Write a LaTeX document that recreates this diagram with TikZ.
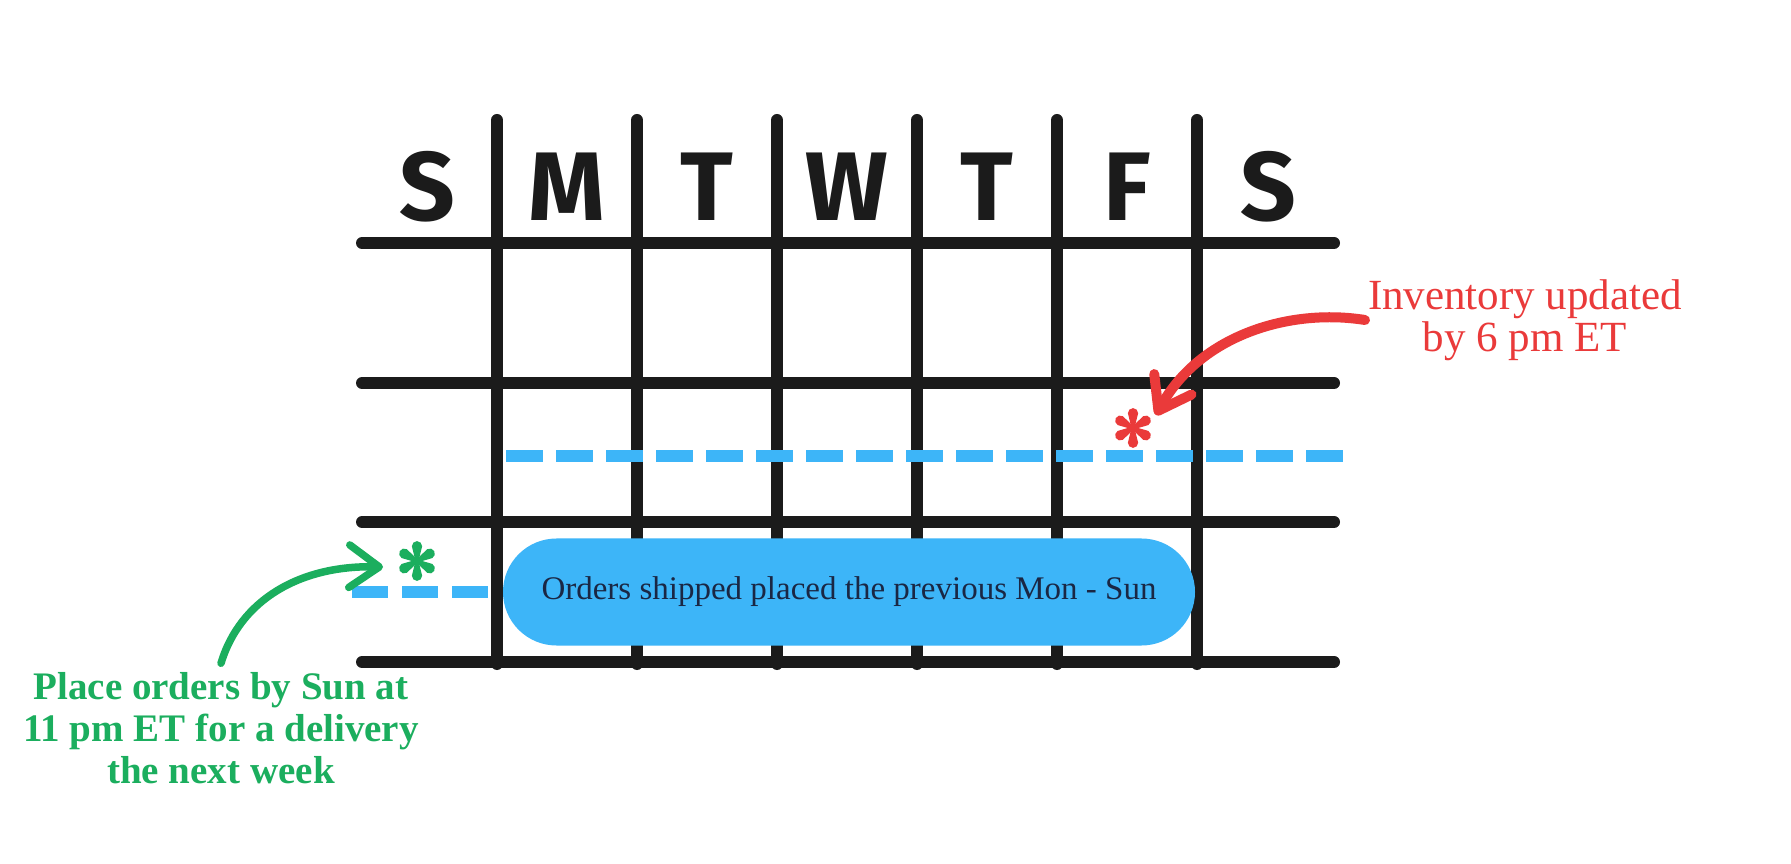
\documentclass[tikz,border=0pt]{standalone}
\usepackage{fontspec}
\setmainfont{Liberation Serif}
\newfontfamily\dayfont{Fira Sans}
\usetikzlibrary{arrows.meta}
\definecolor{gridblack}{HTML}{1B1B1B}
\definecolor{skyblue}{HTML}{3DB5F8}
\definecolor{navytext}{HTML}{1A2744}
\definecolor{alertred}{HTML}{EA3A3A}
\definecolor{leafgreen}{HTML}{1BAE5E}
\tikzset{
  gridline/.style={draw=gridblack, line width=4.8pt, line cap=round},
  bluedash/.style={draw=skyblue, line width=4.8pt, line cap=butt, dash pattern=on 14.8pt off 5.2pt},
  dayletter/.style={font=\dayfont\bfseries\fontsize{39}{39}\selectfont, text=gridblack, inner sep=0pt},
  pill/.style={fill=skyblue, minimum width=276.8pt, minimum height=42.8pt, rounded corners=21.4pt,
    font=\fontsize{13.2}{15}\selectfont, text=navytext, inner sep=0pt},
  redlabel/.style={font=\fontsize{17.2}{16.8}\selectfont, text=alertred, align=center, inner sep=1pt},
  greenlabel/.style={font=\bfseries\fontsize{15.6}{16.7}\selectfont, text=leafgreen, align=center, inner sep=1pt},
  asterisk/.pic={
    \fill (0,0) circle[radius=1.1pt];
    \foreach \a in {30,90,150,210,270,330}{
      \fill[rotate=\a] (0pt,0pt) -- (0pt,0.6pt) -- (5.9pt,2.05pt) arc[start angle=90, end angle=-90, radius=2.05pt] -- (0pt,-0.6pt) -- cycle;}},
  pointer/.style={line width=#1, line cap=round, -{Straight Barb[length=12pt, width=17pt, round]}}
}
\begin{document}
\begin{tikzpicture}[x=0.4pt, y=-0.4pt]
\useasboundingbox[fill=white] (0,0) rectangle (1791,864);
% grid
\foreach \y in {243,383,522,662} \draw[gridline] (362,\y) -- (1334,\y);
\foreach \x in {497,637,777,917,1057,1197} \draw[gridline] (\x,120) -- (\x,664);
% day letters
\node[dayletter] (dS1) at (427,187) {S};
\node[dayletter] (dM) at (567,187) {M};
\node[dayletter] (dT1) at (707,187) {T};
\node[dayletter] (dW) at (847,187) {W};
\node[dayletter] (dT2) at (987,187) {T};
\node[dayletter] (dF) at (1127,187) {F};
\node[dayletter] (dS2) at (1268,187) {S};
% dashed lines
\draw[bluedash] (506,456) -- (1344,456);
\draw[bluedash, dash pattern=on 14.4pt off 5.6pt] (352,592) -- (491,592);
% pill
\node[pill] (ship) at (849,592) {Orders shipped placed the previous Mon - Sun};
% asterisks
\coordinate (redstar) at (1133,428);
\coordinate (greenstar) at (417,561);
\pic[color=alertred] at (redstar) {asterisk};
\pic[color=leafgreen] at (greenstar) {asterisk};
% labels
\node[redlabel] (inv) at (1525,320) {Inventory updated\\by 6 pm ET};
\node[greenlabel] (place) at (221,728) {Place orders by Sun at\\11 pm ET for a delivery\\the next week};
% arrows
\coordinate (redtip) at (1156,415);
\coordinate (greentip) at (383,567);
\draw[pointer=4pt, alertred] (inv.west) .. controls (1290,308) and (1200,335) .. (redtip);
\draw[pointer=3pt, leafgreen] ([yshift=2.5pt]place.north) .. controls (240,600) and (300,565) .. (greentip);
\end{tikzpicture}
\end{document}
